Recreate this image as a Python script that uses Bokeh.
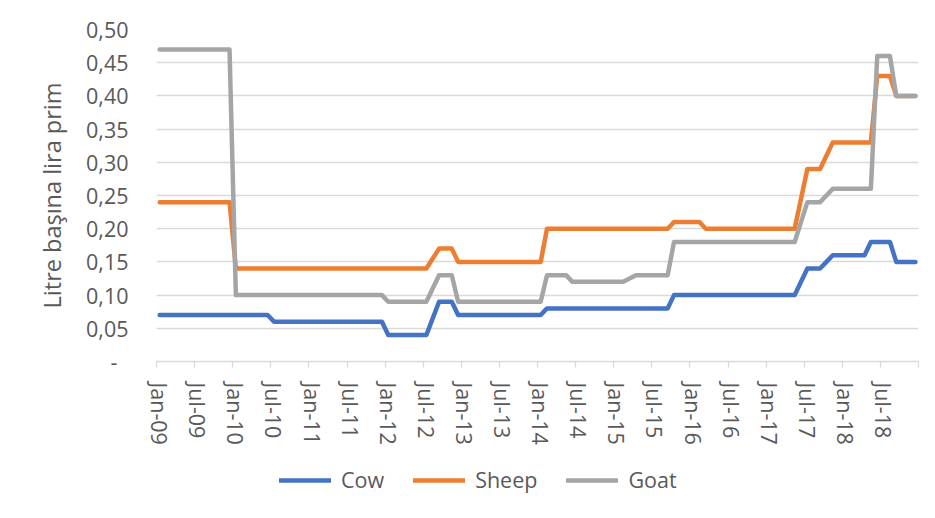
from bokeh.plotting import figure
from bokeh.layouts import column
from bokeh.models import Range1d, FixedTicker, Legend, LegendItem, ColumnDataSource
from bokeh.embed import file_html
from bokeh.resources import INLINE

# ---- data -------------------------------------------------------------
MONTHS = ["Jan", "Feb", "Mar", "Apr", "May", "Jun",
          "Jul", "Aug", "Sep", "Oct", "Nov", "Dec"]
YEARS = ["09", "10", "11", "12", "13", "14", "15", "16", "17", "18"]
CATEGORIES = [f"{m}-{y}" for y in YEARS for m in MONTHS]

COW = [
    0.07, 0.07, 0.07, 0.07, 0.07, 0.07, 0.07, 0.07, 0.07, 0.07, 0.07, 0.07,   # 2009
    0.07, 0.07, 0.07, 0.07, 0.07, 0.07, 0.06, 0.06, 0.06, 0.06, 0.06, 0.06,   # 2010
    0.06, 0.06, 0.06, 0.06, 0.06, 0.06, 0.06, 0.06, 0.06, 0.06, 0.06, 0.06,   # 2011
    0.04, 0.04, 0.04, 0.04, 0.04, 0.04, 0.04, 0.065, 0.09, 0.09, 0.09, 0.07,  # 2012
    0.07, 0.07, 0.07, 0.07, 0.07, 0.07, 0.07, 0.07, 0.07, 0.07, 0.07, 0.07,   # 2013
    0.07, 0.08, 0.08, 0.08, 0.08, 0.08, 0.08, 0.08, 0.08, 0.08, 0.08, 0.08,   # 2014
    0.08, 0.08, 0.08, 0.08, 0.08, 0.08, 0.08, 0.08, 0.08, 0.10, 0.10, 0.10,   # 2015
    0.10, 0.10, 0.10, 0.10, 0.10, 0.10, 0.10, 0.10, 0.10, 0.10, 0.10, 0.10,   # 2016
    0.10, 0.10, 0.10, 0.10, 0.10, 0.12, 0.14, 0.14, 0.14, 0.15, 0.16, 0.16,   # 2017
    0.16, 0.16, 0.16, 0.16, 0.18, 0.18, 0.18, 0.18, 0.15, 0.15, 0.15, 0.15,   # 2018
]
SHEEP = [
    0.24, 0.24, 0.24, 0.24, 0.24, 0.24, 0.24, 0.24, 0.24, 0.24, 0.24, 0.24,   # 2009
    0.14, 0.14, 0.14, 0.14, 0.14, 0.14, 0.14, 0.14, 0.14, 0.14, 0.14, 0.14,   # 2010
    0.14, 0.14, 0.14, 0.14, 0.14, 0.14, 0.14, 0.14, 0.14, 0.14, 0.14, 0.14,   # 2011
    0.14, 0.14, 0.14, 0.14, 0.14, 0.14, 0.14, 0.155, 0.17, 0.17, 0.17, 0.15,  # 2012
    0.15, 0.15, 0.15, 0.15, 0.15, 0.15, 0.15, 0.15, 0.15, 0.15, 0.15, 0.15,   # 2013
    0.15, 0.20, 0.20, 0.20, 0.20, 0.20, 0.20, 0.20, 0.20, 0.20, 0.20, 0.20,   # 2014
    0.20, 0.20, 0.20, 0.20, 0.20, 0.20, 0.20, 0.20, 0.20, 0.21, 0.21, 0.21,   # 2015
    0.21, 0.21, 0.20, 0.20, 0.20, 0.20, 0.20, 0.20, 0.20, 0.20, 0.20, 0.20,   # 2016
    0.20, 0.20, 0.20, 0.20, 0.20, 0.245, 0.29, 0.29, 0.29, 0.31, 0.33, 0.33,  # 2017
    0.33, 0.33, 0.33, 0.33, 0.33, 0.43, 0.43, 0.43, 0.40, 0.40, 0.40, 0.40,   # 2018
]
GOAT = [
    0.47, 0.47, 0.47, 0.47, 0.47, 0.47, 0.47, 0.47, 0.47, 0.47, 0.47, 0.47,   # 2009
    0.10, 0.10, 0.10, 0.10, 0.10, 0.10, 0.10, 0.10, 0.10, 0.10, 0.10, 0.10,   # 2010
    0.10, 0.10, 0.10, 0.10, 0.10, 0.10, 0.10, 0.10, 0.10, 0.10, 0.10, 0.10,   # 2011
    0.09, 0.09, 0.09, 0.09, 0.09, 0.09, 0.09, 0.11, 0.13, 0.13, 0.13, 0.09,   # 2012
    0.09, 0.09, 0.09, 0.09, 0.09, 0.09, 0.09, 0.09, 0.09, 0.09, 0.09, 0.09,   # 2013
    0.09, 0.13, 0.13, 0.13, 0.13, 0.12, 0.12, 0.12, 0.12, 0.12, 0.12, 0.12,   # 2014
    0.12, 0.12, 0.125, 0.13, 0.13, 0.13, 0.13, 0.13, 0.13, 0.18, 0.18, 0.18,  # 2015
    0.18, 0.18, 0.18, 0.18, 0.18, 0.18, 0.18, 0.18, 0.18, 0.18, 0.18, 0.18,   # 2016
    0.18, 0.18, 0.18, 0.18, 0.18, 0.21, 0.24, 0.24, 0.24, 0.25, 0.26, 0.26,   # 2017
    0.26, 0.26, 0.26, 0.26, 0.26, 0.46, 0.46, 0.46, 0.40, 0.40, 0.40, 0.40,   # 2018
]

SERIES_KEYS = ["cow", "sheep", "goat"]
SERIES_NAMES = ["Cow", "Sheep", "Goat"]
SERIES_COLORS = ["#4472C4", "#ED7D31", "#A5A5A5"]

Y_TICKS = [0.0, 0.05, 0.10, 0.15, 0.20, 0.25, 0.30, 0.35, 0.40, 0.45, 0.50]
Y_LABELS = ["-\u00a0\u00a0", "0,05", "0,10", "0,15", "0,20", "0,25",
            "0,30", "0,35", "0,40", "0,45", "0,50"]
Y_TITLE = "Litre başına lira prim"
LABEL_EVERY = 6

# ---- figure -----------------------------------------------------------
TEXT = "#595959"
GRID = "#D9D9D9"
FONT = "Open Sans"
LABEL_SIZE = "21.5px"
LINE_W = 4.5

n = len(CATEGORIES)
xs = list(range(n))
src = ColumnDataSource(dict(x=xs, cow=COW, sheep=SHEEP, goat=GOAT))

p = figure(width=919, height=450, output_backend="svg", toolbar_location=None,
           x_range=Range1d(-0.5, n - 0.5), y_range=Range1d(0, 0.5),
           min_border_left=156, min_border_right=1,
           min_border_top=29, min_border_bottom=89)
p.outline_line_color = None
p.background_fill_color = "white"
p.border_fill_color = "white"

for key, color in zip(SERIES_KEYS, SERIES_COLORS):
    p.line("x", key, source=src, line_color=color, line_width=LINE_W,
           line_join="round", line_cap="round")

# y axis
p.yaxis.ticker = FixedTicker(ticks=Y_TICKS)
p.yaxis.major_label_overrides = {t: l for t, l in zip(Y_TICKS, Y_LABELS)}
p.yaxis.axis_line_color = None
p.yaxis.major_tick_line_color = None
p.yaxis.minor_tick_line_color = None
p.yaxis.major_tick_out = 0
p.yaxis.major_tick_in = 0
p.yaxis.major_label_standoff = 28
p.yaxis.major_label_text_font = FONT
p.yaxis.major_label_text_font_size = LABEL_SIZE
p.yaxis.major_label_text_color = TEXT
p.yaxis.axis_label = Y_TITLE
p.yaxis.axis_label_text_font = FONT
p.yaxis.axis_label_text_font_size = "23.5px"
p.yaxis.axis_label_text_font_style = "normal"
p.yaxis.axis_label_text_color = TEXT
p.yaxis.axis_label_standoff = 15

p.ygrid.ticker = FixedTicker(ticks=Y_TICKS)
p.ygrid.grid_line_color = GRID
p.ygrid.grid_line_width = 1.3
p.xgrid.grid_line_color = None

# x axis: labels centered on months, tick marks on month boundaries
label_pos = xs[::LABEL_EVERY]
boundary_pos = [i - 0.5 for i in range(0, n + 1, LABEL_EVERY)]
p.xaxis.ticker = FixedTicker(ticks=label_pos, minor_ticks=boundary_pos)
p.xaxis.major_label_overrides = {i: CATEGORIES[i] for i in label_pos}
p.xaxis.major_label_orientation = "vertical"
p.xaxis.major_tick_out = 0
p.xaxis.major_tick_in = 0
p.xaxis.major_tick_line_color = None
p.xaxis.minor_tick_out = 6
p.xaxis.minor_tick_in = 0
p.xaxis.minor_tick_line_color = GRID
p.xaxis.minor_tick_line_width = 1.3
p.xaxis.axis_line_color = GRID
p.xaxis.axis_line_width = 1.3
p.xaxis.major_label_standoff = 15
p.xaxis.major_label_text_font = FONT
p.xaxis.major_label_text_font_size = LABEL_SIZE
p.xaxis.major_label_text_color = TEXT

# ---- legend strip (own small figure below the chart) ------------------
# its ranges lie far above the data, so the series lines stay out of view
lg = figure(width=919, height=52, output_backend="svg", toolbar_location=None,
            x_axis_location=None, y_axis_location=None,
            x_range=Range1d(-0.5, n - 0.5), y_range=Range1d(10, 11),
            min_border_left=0, min_border_right=0,
            min_border_top=0, min_border_bottom=0)
lg.outline_line_color = None
lg.grid.grid_line_color = None
lg.background_fill_color = "white"
lg.border_fill_color = "white"

items = []
for key, name, color in zip(SERIES_KEYS, SERIES_NAMES, SERIES_COLORS):
    r = lg.line("x", key, source=src, line_color=color, line_width=LINE_W,
                line_join="round", line_cap="round")
    items.append(LegendItem(label=name, renderers=[r]))

legend = Legend(items=items, orientation="horizontal", location=(123, 8),
                glyph_width=52, glyph_height=20, label_standoff=10, spacing=29,
                padding=0, margin=0, border_line_color=None,
                background_fill_alpha=0,
                label_text_font=FONT, label_text_font_size=LABEL_SIZE,
                label_text_color=TEXT)
lg.add_layout(legend, "center")

page = column(p, lg, spacing=0)
open("out.html", "w").write(file_html(page, INLINE))
